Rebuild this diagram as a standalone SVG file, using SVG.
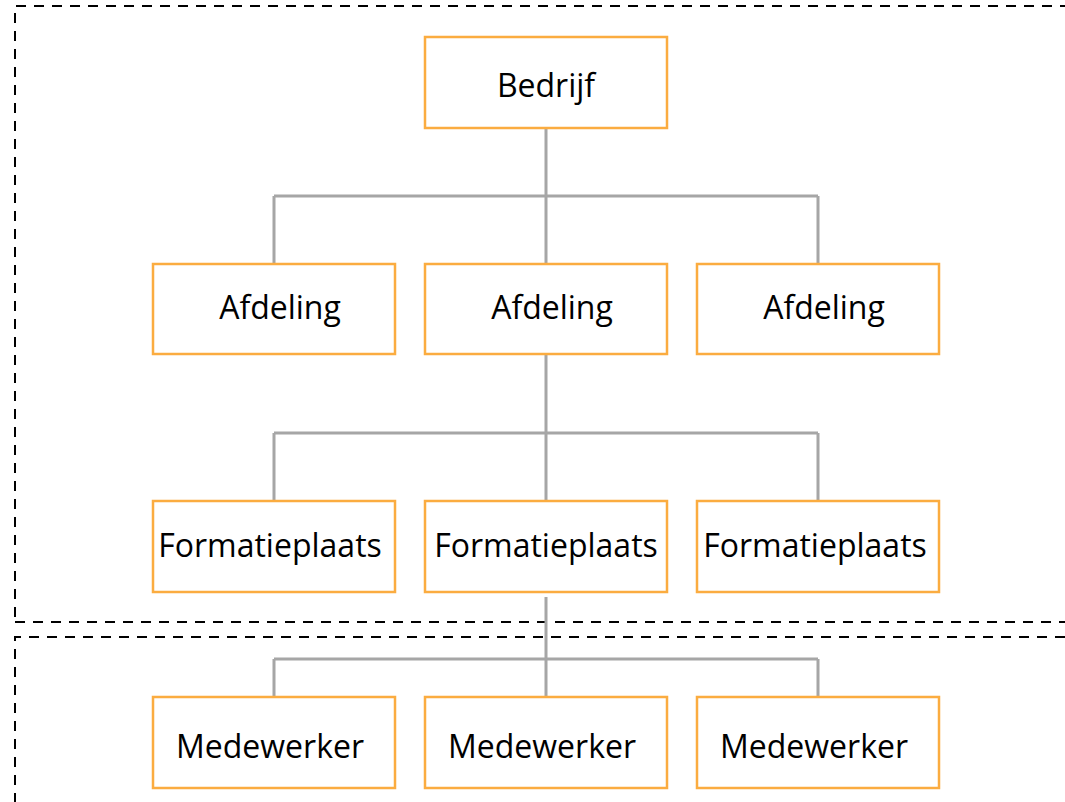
<svg xmlns="http://www.w3.org/2000/svg" width="1065" height="802" viewBox="0 0 1065 802">
<style>
.frame{fill:none;stroke:#000;stroke-width:2;stroke-dasharray:10 8}
.box rect{fill:#fff;stroke:#FBAC40;stroke-width:2.5}
.box text{font-family:"Open Sans","Liberation Sans",sans-serif;font-size:32px;fill:#000;text-anchor:middle}
#connectors path{fill:none;stroke:#A6A6A6;stroke-width:3}
</style>
<rect width="1065" height="802" fill="#fff"/>
<g id="frames">
<path class="frame" d="M15,617 L15,6 L1065,6"/>
<path class="frame" d="M15,622 L1065,622"/>
<path class="frame" d="M1065,637 L15,637 L15,802"/>
</g>
<g id="connectors">
<path d="M546,128 V264 M274,196 H818 M274,196 V264 M818,196 V264"/>
<path d="M546,354 V501 M274,433 H818 M274,433 V501 M818,433 V501"/>
<path d="M546,597 V697 M274,659 H818 M274,659 V697 M818,659 V697"/>
</g>
<g id="bedrijf" class="box"><rect x="425" y="37" width="242" height="91"/><text x="546" y="97">Bedrijf</text></g>
<g id="afdeling1" class="box"><rect x="153" y="264" width="242" height="90"/><text x="280" y="319">Afdeling</text></g>
<g id="afdeling2" class="box"><rect x="425" y="264" width="242" height="90"/><text x="552" y="319">Afdeling</text></g>
<g id="afdeling3" class="box"><rect x="697" y="264" width="242" height="90"/><text x="824" y="319">Afdeling</text></g>
<g id="formatieplaats1" class="box"><rect x="153" y="501" width="242" height="91"/><text x="270" y="557">Formatieplaats</text></g>
<g id="formatieplaats2" class="box"><rect x="425" y="501" width="242" height="91"/><text x="546" y="557">Formatieplaats</text></g>
<g id="formatieplaats3" class="box"><rect x="697" y="501" width="242" height="91"/><text x="815" y="557">Formatieplaats</text></g>
<g id="medewerker1" class="box"><rect x="153" y="697" width="242" height="91"/><text x="270" y="758">Medewerker</text></g>
<g id="medewerker2" class="box"><rect x="425" y="697" width="242" height="91"/><text x="542" y="758">Medewerker</text></g>
<g id="medewerker3" class="box"><rect x="697" y="697" width="242" height="91"/><text x="814" y="758">Medewerker</text></g>
</svg>
